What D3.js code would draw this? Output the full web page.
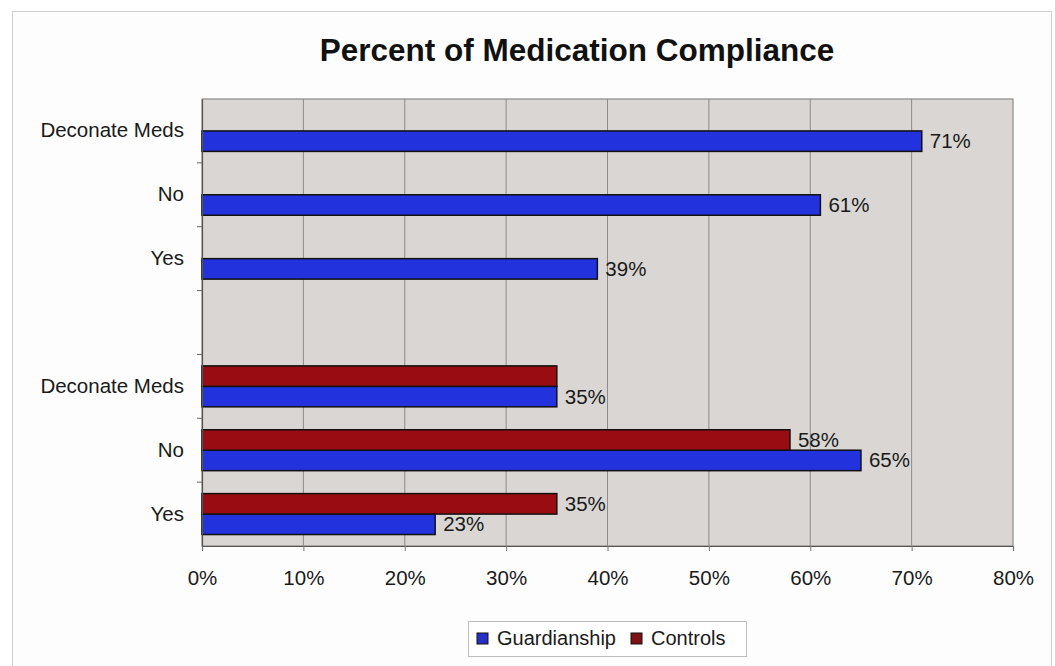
<!DOCTYPE html>
<html>
<head>
<meta charset="utf-8">
<script src="https://cdn.jsdelivr.net/npm/d3@7"></script>
<style>
  html, body { margin: 0; padding: 0; background: #ffffff; }
  svg { display: block; font-family: "Liberation Sans", Arial, sans-serif; }
</style>
</head>
<body>
<svg id="chart" width="1055" height="666"></svg>
<script>
// Categories listed top to bottom; the empty entry separates the two groups
const categories = ["Deconate Meds", "No", "Yes", "", "Deconate Meds", "No", "Yes"];
const guardianship = [71, 61, 39, null, 35, 65, 23];
const controls = [null, null, null, null, 35, 58, 35];
// Which Controls bars carry a value label
const controlsLabelled = [false, false, false, false, false, true, true];
const seriesNames = ["Guardianship", "Controls"];
const xTicks = [0, 10, 20, 30, 40, 50, 60, 70, 80];

const colors = { Guardianship: "#2232dc", Controls: "#980c12" };
const legendColors = { Guardianship: "#2431c4", Controls: "#7c1212" };

const svg = d3.select("#chart");
const W = 1055, H = 666;
const plot = { left: 202, right: 1013, top: 99, bottom: 546 };

// Outer chart frame
svg.append("rect")
  .attr("x", 12.5).attr("y", 11.5)
  .attr("width", W - 16).attr("height", H)
  .attr("fill", "#fdfdfd").attr("stroke", "#cfcfcf").attr("stroke-width", 1);

// Title
svg.append("text")
  .attr("x", 577).attr("y", 61)
  .attr("text-anchor", "middle")
  .attr("font-size", 31.5).attr("font-weight", "bold")
  .attr("fill", "#111")
  .text("Percent of Medication Compliance");

const x = d3.scaleLinear().domain([0, 80]).range([plot.left, plot.right]);
const y = d3.scaleBand().domain(d3.range(categories.length))
  .range([plot.top, plot.bottom]).paddingInner(0).paddingOuter(0);
const ySeries = d3.scaleBand().domain(["Controls", "Guardianship"])
  .range([0, y.bandwidth()]).paddingInner(0).paddingOuter(0.56);

// Plot background
svg.append("rect")
  .attr("x", plot.left).attr("y", plot.top)
  .attr("width", plot.right - plot.left).attr("height", plot.bottom - plot.top)
  .attr("fill", "#d9d6d3");

// Vertical gridlines
svg.append("g").selectAll("line")
  .data(xTicks.slice(1, -1))
  .join("line")
  .attr("x1", d => x(d)).attr("x2", d => x(d))
  .attr("y1", plot.top).attr("y2", plot.bottom)
  .attr("stroke", "#8c8b8a").attr("stroke-width", 1);

// Plot border
svg.append("rect")
  .attr("x", plot.left).attr("y", plot.top)
  .attr("width", plot.right - plot.left).attr("height", plot.bottom - plot.top)
  .attr("fill", "none").attr("stroke", "#8a8a8a").attr("stroke-width", 1.2);

// Bars
const rows = categories.map((c, i) => ({
  i,
  Guardianship: guardianship[i],
  Controls: controls[i],
  labelControls: controlsLabelled[i]
}));

const barData = [];
rows.forEach(r => {
  seriesNames.forEach(s => {
    if (r[s] != null) {
      barData.push({
        i: r.i, series: s, value: r[s],
        labelled: s === "Guardianship" ? true : r.labelControls
      });
    }
  });
});

svg.append("g").selectAll("rect")
  .data(barData)
  .join("rect")
  .attr("x", x(0))
  .attr("y", d => y(d.i) + ySeries(d.series))
  .attr("width", d => x(d.value) - x(0))
  .attr("height", ySeries.bandwidth())
  .attr("fill", d => colors[d.series])
  .attr("stroke", "#111")
  .attr("stroke-width", 1.5);

// Value labels
svg.append("g").selectAll("text")
  .data(barData.filter(d => d.labelled))
  .join("text")
  .attr("x", d => x(d.value) + 8)
  .attr("y", d => y(d.i) + ySeries(d.series) + ySeries.bandwidth() / 2 + 7)
  .attr("font-size", 20.5)
  .attr("fill", "#1a1a1a")
  .text(d => d.value + "%");

// Category axis
const yAxis = d3.axisLeft(y)
  .tickSize(0).tickPadding(18)
  .tickFormat(i => categories[i]);
const gy = svg.append("g").attr("transform", `translate(${plot.left},0)`).call(yAxis);
gy.select(".domain").attr("stroke", "#555").attr("stroke-width", 1.2);
gy.selectAll("text").attr("font-size", 20.5).attr("fill", "#1a1a1a")
  .attr("font-family", "\"Liberation Sans\", Arial, sans-serif");

// Tick marks between categories
svg.append("g").selectAll("line")
  .data(d3.range(1, categories.length))
  .join("line")
  .attr("x1", plot.left - 5).attr("x2", plot.left)
  .attr("y1", i => y(i)).attr("y2", i => y(i))
  .attr("stroke", "#666").attr("stroke-width", 1);

// Value axis
const xAxis = d3.axisBottom(x)
  .tickValues(xTicks)
  .tickSize(5).tickPadding(19)
  .tickFormat(d => d + "%");
const gx = svg.append("g").attr("transform", `translate(0,${plot.bottom})`).call(xAxis);
gx.select(".domain").attr("stroke", "#555").attr("stroke-width", 1.2);
gx.selectAll(".tick line").attr("stroke", "#777");
gx.selectAll("text").attr("font-size", 20.5).attr("fill", "#1a1a1a")
  .attr("font-family", "\"Liberation Sans\", Arial, sans-serif");

// Legend
const legend = svg.append("g");
legend.append("rect")
  .attr("x", 468.5).attr("y", 621.5)
  .attr("width", 278).attr("height", 35)
  .attr("fill", "#ffffff").attr("stroke", "#bdbdbd").attr("stroke-width", 1);

const legendItems = [
  { name: "Guardianship", sx: 477, tx: 497 },
  { name: "Controls", sx: 631, tx: 651 }
];
legendItems.forEach(it => {
  legend.append("rect")
    .attr("x", it.sx).attr("y", 633)
    .attr("width", 11).attr("height", 11)
    .attr("fill", legendColors[it.name])
    .attr("stroke", "#111").attr("stroke-width", 1);
  legend.append("text")
    .attr("x", it.tx).attr("y", 645)
    .attr("font-size", 20).attr("fill", "#1a1a1a")
    .text(it.name);
});
</script>
</body>
</html>
